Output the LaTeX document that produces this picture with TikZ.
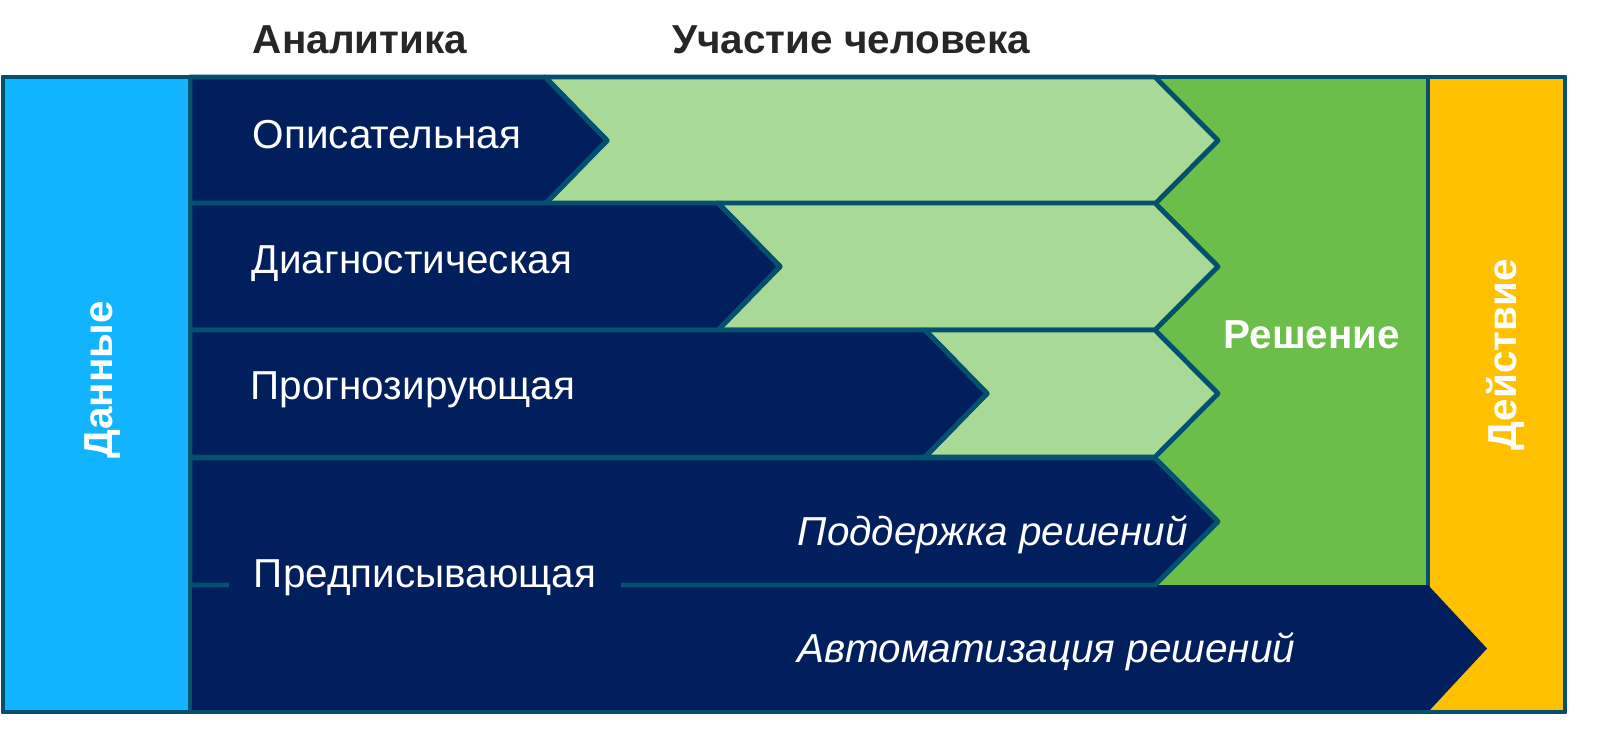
\documentclass[tikz,border=0pt]{standalone}
\usepackage{fontspec}
\setmainfont{Liberation Sans}
\usepackage{tikz}

\definecolor{navy}{HTML}{001F5C}
\definecolor{edge}{HTML}{03506F}
\definecolor{datablue}{HTML}{12B4FF}
\definecolor{leafgreen}{HTML}{A9D996}
\definecolor{decgreen}{HTML}{6CBE4B}
\definecolor{actyellow}{HTML}{FFC000}
\definecolor{titlegray}{HTML}{262626}

\tikzset{
	frame/.style={draw=edge, line width=1.4pt, line join=round},
	lbl/.style={text=white, font=\fontsize{11.5}{13}\selectfont, inner sep=0pt},
	boldlbl/.style={lbl, font=\fontsize{11.5}{13}\selectfont\bfseries},
	title/.style={text=titlegray, font=\fontsize{11.5}{13}\selectfont\bfseries}
}

\begin{document}
\begin{tikzpicture}[x=0.01cm,y=-0.01cm]
	
	\useasboundingbox (0,0) rectangle (1600,730);
	
	% decision block behind the chevrons
	\fill[decgreen] (1155,77) rectangle (1428,590);
	
	% action column
	\draw[frame, fill=actyellow] (1428,77) rectangle (1565,712);
	% row 5
	\fill[navy] (190,585) -- (1428,585) -- (1487,648.5) -- (1428,712) -- (190,712) -- cycle;
	
	% human part, rows 1-3
	\foreach \top/\cut in {77/545, 203/718, 330/925}{
		\draw[frame, fill=leafgreen] (\cut,\top) -- (1155,\top) -- (1218,\top+63.5)
		-- (1155,\top+127) -- (\cut,\top+127) -- (\cut+62,\top+63.5) -- cycle;
		\draw[frame, fill=navy] (190,\top) -- (\cut,\top) -- (\cut+62,\top+63.5)
		-- (\cut,\top+127) -- (190,\top+127) -- cycle;
	}
	% row 4
	\draw[frame, fill=navy] (190,458) -- (1155,458) -- (1218,521.5)
	-- (1155,585) -- (190,585) -- cycle;
	
	% data column and frame
	\draw[frame, fill=datablue] (3,77) rectangle (190,712);
	\draw[frame] (3,77) rectangle (1565,712);
	
	% labels
	\node[title] (anl) at (360,40) {Аналитика};
	\node[title] (hum) at (851,40) {Участие человека};
	
	\node[boldlbl, rotate=90] (data) at (103,380) {Данные};
	\node[boldlbl, rotate=90] (act) at (1505,355) {Действие};
	\node[boldlbl] (dec) at (1312,335) {Решение};
	
	\node[lbl] (opis) at (387,135) {Описательная};
	\node[lbl] (diag) at (412,264) {Диагностическая};
	\node[lbl] (prog) at (413,390) {Прогнозирующая};
	\node[lbl, fill=navy, inner xsep=7pt, inner ysep=3pt] (pred) at (425,578) {Предписывающая};
	
	\node[lbl, anchor=west] (supp) at (797,535) {\itshape Поддержка решений};
	\node[lbl, anchor=west] (auto) at (797,652) {\itshape Автоматизация решений};
	
\end{tikzpicture}
\end{document}
